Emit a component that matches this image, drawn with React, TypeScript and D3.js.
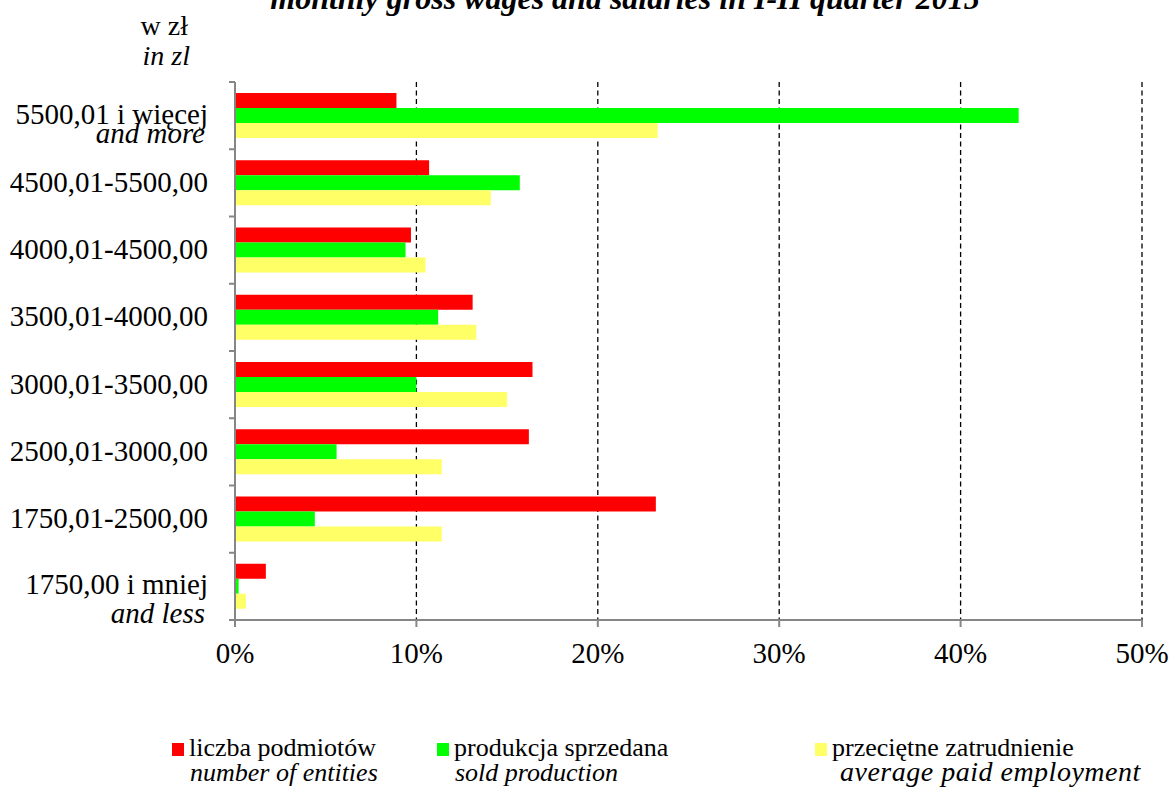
import React from 'react';
import * as d3 from 'd3';

const categories = [
  '5500,01 i więcej',
  '4500,01-5500,00',
  '4000,01-4500,00',
  '3500,01-4000,00',
  '3000,01-3500,00',
  '2500,01-3000,00',
  '1750,01-2500,00',
  '1750,00 i mniej',
];
const categorySubLabels = ['and more', '', '', '', '', '', '', 'and less'];
const entities = [8.9, 10.7, 9.7, 13.1, 16.4, 16.2, 23.2, 1.7];
const production = [43.2, 15.7, 9.4, 11.2, 10.0, 5.6, 4.4, 0.2];
const employment = [23.3, 14.1, 10.5, 13.3, 15.0, 11.4, 11.4, 0.6];
const xTicks = [0, 10, 20, 30, 40, 50];
const seriesNames = ['liczba podmiotów', 'produkcja sprzedana', 'przeciętne zatrudnienie'];
const seriesNamesEn = ['number of entities', 'sold production', 'average paid employment'];
const seriesColors = ['#FF0000', '#00FF00', '#FFFF66'];
const title = 'monthly gross wages and salaries in I-II quarter 2015';
const unitPl = 'w zł';
const unitEn = 'in zl';

const W = 1169;
const H = 794;
const FONT = '"Liberation Serif", "Times New Roman", serif';
const AXIS = '#868686';

export default function App() {
  const series = [entities, production, employment];
  const x = d3.scaleLinear().domain([0, 50]).range([235, 1142]);
  const y = d3.scaleBand<string>().domain(categories).range([82, 620]).padding(0);
  const inner = d3.scaleBand<number>().domain([0, 1, 2]).range([11, 56]).padding(0);
  const top = 82;
  const bottom = 620;
  const boundaries = d3.range(categories.length + 1).map((i) => top + i * y.step());
  const legendX = [172, 437, 815];
  const legendSizeEn = [26, 26, 28];
  const legendSpacingEn = [0, 0, 0.5];

  return (
    <div style={{ position: 'absolute', left: 0, top: 0 }}>
      <svg width={W} height={H} style={{ display: 'block', background: '#fff' }} fontFamily={FONT}>
        <text x={625} y={9} textAnchor="middle" fontSize={32} fontWeight="bold" fontStyle="italic" fill="#000">
          {title}
        </text>
        <text x={188} y={35} textAnchor="end" fontSize={28} fill="#000">{unitPl}</text>
        <text x={190} y={65} textAnchor="end" fontSize={28} fontStyle="italic" fill="#000">{unitEn}</text>

        {/* gridlines */}
        {xTicks.filter((t) => t > 0).map((t) => (
          <line key={'g' + t} x1={x(t)} x2={x(t)} y1={top} y2={bottom} stroke="#000" strokeWidth={1.3} strokeDasharray="5,3.5" />
        ))}

        {/* bars */}
        {categories.map((c, ci) => (
          <g key={c}>
            {series.map((s, si) => (
              <rect
                key={si}
                x={x(0)}
                y={(y(c) as number) + (inner(si) as number)}
                width={x(s[ci]) - x(0)}
                height={inner.bandwidth()}
                fill={seriesColors[si]}
              />
            ))}
          </g>
        ))}

        {/* axes */}
        <line x1={x(0)} x2={x(0)} y1={top} y2={bottom} stroke={AXIS} strokeWidth={2} />
        <line x1={x(0)} x2={x(50)} y1={bottom} y2={bottom} stroke={AXIS} strokeWidth={2} />
        {boundaries.map((b, i) => (
          <line key={'lt' + i} x1={x(0) - 6} x2={x(0)} y1={b} y2={b} stroke={AXIS} strokeWidth={2} />
        ))}
        {xTicks.map((t) => (
          <line key={'bt' + t} x1={x(t)} x2={x(t)} y1={bottom} y2={bottom + 7} stroke={AXIS} strokeWidth={2} />
        ))}
        {xTicks.map((t) => (
          <text key={'tl' + t} x={x(t)} y={663} textAnchor="middle" fontSize={29} fill="#000">
            {t + '%'}
          </text>
        ))}

        {/* category labels */}
        {categories.map((c, ci) => {
          const cy = (y(c) as number) + y.bandwidth() / 2;
          const sub = categorySubLabels[ci];
          if (!sub) {
            return (
              <text key={'cl' + c} x={208} y={cy + 9} textAnchor="end" fontSize={29} fill="#000">{c}</text>
            );
          }
          const first = ci === 0 ? cy + 8.5 : cy + 7.8;
          const second = ci === 0 ? cy + 27 : cy + 36.3;
          return (
            <g key={'cl' + c}>
              <text x={208} y={first} textAnchor="end" fontSize={29} fill="#000">{c}</text>
              <text x={205} y={second} textAnchor="end" fontSize={29} fontStyle="italic" fill="#000">{sub}</text>
            </g>
          );
        })}

        {/* legend */}
        {seriesNames.map((n, i) => (
          <g key={'lg' + i}>
            <rect x={legendX[i]} y={743} width={12} height={13} fill={seriesColors[i]} />
            <text x={legendX[i] + 17} y={756} fontSize={26} fill="#000">{n}</text>
            <text x={legendX[i] + (i === 2 ? 25 : 18)} y={781} fontSize={legendSizeEn[i]} letterSpacing={legendSpacingEn[i]} fontStyle="italic" fill="#000">{seriesNamesEn[i]}</text>
          </g>
        ))}
      </svg>
    </div>
  );
}
